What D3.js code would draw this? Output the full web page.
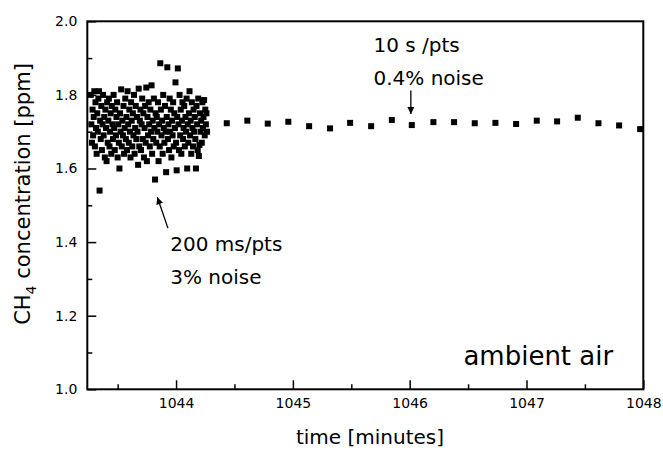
<!DOCTYPE html>
<html>
<head>
<meta charset="utf-8">
<script src="https://cdn.jsdelivr.net/npm/d3@7"></script>
<style>
  body { margin: 0; background: #fff; }
  text { font-family: 'DejaVu Sans', sans-serif; fill: #000; }
</style>
</head>
<body>
<div id="chart"></div>
<script>
// fast acquisition, 200 ms per point (minutes)
const fastStart = 1043.27
const fastStep = 0.005
const fastValues = [
  1.80, 1.72, 1.67, 1.76, 1.69, 1.74, 1.81, 1.66, 1.78, 1.71,
  1.64, 1.75, 1.70, 1.79, 1.81, 1.54, 1.73, 1.68, 1.77, 1.65,
  1.72, 1.80, 1.69, 1.74, 1.63, 1.76, 1.71, 1.62, 1.78, 1.67,
  1.73, 1.79, 1.66, 1.70, 1.75, 1.64, 1.77, 1.72, 1.68, 1.80,
  1.71, 1.65, 1.76, 1.69, 1.74, 1.78, 1.63, 1.72, 1.67, 1.60,
  1.75, 1.70, 1.815, 1.66, 1.73, 1.69, 1.77, 1.64, 1.71, 1.79,
  1.68, 1.74, 1.65, 1.81, 1.72, 1.67, 1.76, 1.70, 1.63, 1.78,
  1.73, 1.66, 1.75, 1.69, 1.80, 1.64, 1.71, 1.77, 1.68, 1.74,
  1.70, 1.61, 1.817, 1.66, 1.73, 1.76, 1.65, 1.72, 1.79, 1.68,
  1.75, 1.63, 1.71, 1.77, 1.67, 1.82, 1.62, 1.74, 1.69, 1.78,
  1.72, 1.66, 1.76, 1.70, 1.826, 1.64, 1.73, 1.68, 1.79, 1.71,
  1.57, 1.75, 1.67, 1.74, 1.70, 1.78, 1.62, 1.72, 1.66, 1.886,
  1.76, 1.69, 1.73, 1.64, 1.80, 1.71, 1.67, 1.77, 1.70, 1.59,
  1.74, 1.875, 1.68, 1.72, 1.65, 1.79, 1.70, 1.76, 1.63, 1.73,
  1.69, 1.78, 1.66, 1.75, 1.71, 1.834, 1.67, 1.595, 1.74, 1.872,
  1.72, 1.65, 1.80, 1.69, 1.76, 1.64, 1.73, 1.78, 1.68, 1.71,
  1.77, 1.66, 1.74, 1.70, 1.79, 1.60, 1.72, 1.67, 1.75, 1.81,
  1.69, 1.73, 1.64, 1.78, 1.71, 1.66, 1.76, 1.70, 1.74, 1.68,
  1.60, 1.77, 1.72, 1.65, 1.79, 1.634, 1.664, 1.75, 1.70, 1.73,
  1.67, 1.78, 1.71, 1.74, 1.786, 1.69, 1.76, 1.72, 1.75, 1.70
]

// slow acquisition, 10 s per point
const slowTimes = [
  1044.434, 1044.610, 1044.785, 1044.961, 1045.139, 1045.318, 1045.490,
  1045.670, 1045.847, 1046.018, 1046.203, 1046.380, 1046.557, 1046.734,
  1046.911, 1047.088, 1047.262, 1047.439, 1047.616, 1047.793, 1047.973
]
const slowValues = [
  1.723, 1.730, 1.722, 1.727, 1.715, 1.709, 1.724,
  1.715, 1.732, 1.718, 1.726, 1.726, 1.723, 1.724,
  1.721, 1.730, 1.728, 1.738, 1.723, 1.717, 1.707
]

const xMajorTicks = [1044, 1045, 1046, 1047, 1048]
const xMinorTicks = [1043.5, 1044.5, 1045.5, 1046.5, 1047.5]
const yMajorTicks = [1.0, 1.2, 1.4, 1.6, 1.8, 2.0]
const yMinorTicks = [1.1, 1.3, 1.5, 1.7, 1.9]

const notes = [
  { lines: ['10 s /pts', '0.4% noise'], t: 1045.69, v: 1.916, size: 20 },
  { lines: ['200 ms/pts', '3% noise'], t: 1043.95, v: 1.375, size: 20 },
  { lines: ['ambient air'], t: 1046.46, v: 1.066, size: 26 }
]
const arrows = [
  { from: [1046.01, 1.812], to: [1046.01, 1.748] },
  { from: [1043.93, 1.438], to: [1043.84, 1.522] }
]

const width = 663
const height = 451
const margin = { top: 21.3, right: 19.7, bottom: 61.7, left: 87.3 }

const svg = d3.select('#chart')
  .append('svg')
  .attr('width', width)
  .attr('height', height)

const xScale = d3.scaleLinear()
  .domain([1043.24, 1048])
  .range([margin.left, width - margin.right])

const yScale = d3.scaleLinear()
  .domain([1.0, 2.0])
  .range([height - margin.bottom, margin.top])

svg.append('defs').append('marker')
  .attr('id', 'head')
  .attr('viewBox', '0 0 10 10')
  .attr('refX', 10)
  .attr('refY', 5)
  .attr('markerWidth', 9)
  .attr('markerHeight', 7)
  .attr('markerUnits', 'userSpaceOnUse')
  .attr('orient', 'auto')
  .append('path')
  .attr('d', 'M0,0 L10,5 L0,10 Z')
  .attr('fill', '#000')

// x axis, ticks pointing inward
const xAxis = svg.append('g')
  .attr('transform', `translate(0,${height - margin.bottom})`)
  .call(d3.axisBottom(xScale).tickValues(xMajorTicks).tickFormat(d3.format('d'))
    .tickSizeInner(-9).tickSizeOuter(0).tickPadding(9))
xAxis.selectAll('.tick text').style('font-size', '14px')
xAxis.append('g')
  .call(d3.axisBottom(xScale).tickValues(xMinorTicks).tickFormat('')
    .tickSizeInner(-5).tickSizeOuter(0))
  .select('.domain').remove()

const yAxis = svg.append('g')
  .attr('transform', `translate(${margin.left},0)`)
  .call(d3.axisLeft(yScale).tickValues(yMajorTicks).tickFormat(d3.format('.1f'))
    .tickSizeInner(-9).tickSizeOuter(0).tickPadding(10))
yAxis.selectAll('.tick text').style('font-size', '14px')
yAxis.append('g')
  .call(d3.axisLeft(yScale).tickValues(yMinorTicks).tickFormat('')
    .tickSizeInner(-5).tickSizeOuter(0))
  .select('.domain').remove()

svg.selectAll('.tick line').attr('stroke-width', 1.5)
svg.selectAll('.domain').remove()

// frame
svg.append('rect')
  .attr('x', margin.left)
  .attr('y', margin.top)
  .attr('width', width - margin.left - margin.right)
  .attr('height', height - margin.top - margin.bottom)
  .attr('fill', 'none')
  .attr('stroke', '#000')
  .attr('stroke-width', 2)

const fastData = fastValues.map((v, i) => ({ t: fastStart + i * fastStep, v }))
const slowData = slowValues.map((v, i) => ({ t: slowTimes[i], v }))
const s = 6

svg.append('g').selectAll('rect')
  .data(fastData.concat(slowData))
  .enter().append('rect')
  .attr('x', d => xScale(d.t) - s / 2)
  .attr('y', d => yScale(d.v) - s / 2)
  .attr('width', s)
  .attr('height', s)
  .attr('fill', '#000')

// annotations
notes.forEach(n => {
  const txt = svg.append('text')
    .attr('x', xScale(n.t))
    .attr('y', yScale(n.v))
    .style('font-size', n.size + 'px')
  n.lines.forEach((l, i) => {
    txt.append('tspan')
      .attr('x', xScale(n.t))
      .attr('dy', i === 0 ? 0 : '1.65em')
      .text(l)
  })
})

svg.selectAll('.arrow')
  .data(arrows)
  .enter().append('line')
  .attr('class', 'arrow')
  .attr('x1', d => xScale(d.from[0]))
  .attr('y1', d => yScale(d.from[1]))
  .attr('x2', d => xScale(d.to[0]))
  .attr('y2', d => yScale(d.to[1]))
  .attr('stroke', '#000')
  .attr('stroke-width', 1.3)
  .attr('marker-end', 'url(#head)')

// axis titles
svg.append('text')
  .attr('x', 370)
  .attr('y', 444)
  .attr('text-anchor', 'middle')
  .style('font-size', '20px')
  .text('time [minutes]')

const yTitle = svg.append('text')
  .attr('transform', 'translate(30,194) rotate(-90)')
  .attr('text-anchor', 'middle')
  .style('font-size', '21px')
yTitle.append('tspan').text('CH')
yTitle.append('tspan').attr('dy', 6).style('font-size', '14px').text('4')
yTitle.append('tspan').attr('dy', -6).text(' concentration [ppm]')
</script>
</body>
</html>
